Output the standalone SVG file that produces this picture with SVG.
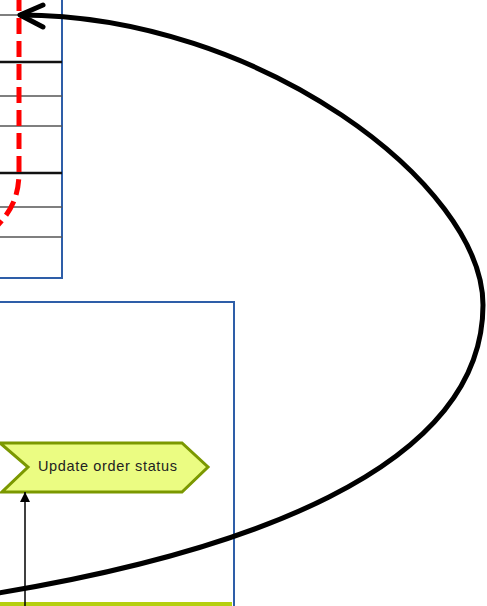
<svg xmlns="http://www.w3.org/2000/svg" width="487" height="606" viewBox="0 0 487 606">
<style>
.box{fill:none;stroke:#2e5ea8;stroke-width:2}
.thin{stroke:#555;stroke-width:1.5}
.thick{stroke:#111;stroke-width:2.5}
.lbl{font-family:"Liberation Sans",Arial,sans-serif;font-size:14.5px;fill:#222}
</style>
<defs>
<marker id="tri" markerWidth="10" markerHeight="10" refX="10" refY="5" orient="auto" markerUnits="userSpaceOnUse">
<path d="M0,0 L10,5 L0,10 Z" fill="#000"/>
</marker>
</defs>
<rect width="487" height="606" fill="#fff"/>
<g id="table">
<rect class="box" x="-10" y="-10" width="72" height="288"/>
<line class="thin" x1="0" y1="15" x2="62" y2="15"/>
<line class="thick" x1="0" y1="62" x2="62" y2="62"/>
<line class="thin" x1="0" y1="96" x2="62" y2="96"/>
<line class="thin" x1="0" y1="126" x2="62" y2="126"/>
<line class="thick" x1="0" y1="173" x2="62" y2="173"/>
<line class="thin" x1="0" y1="207" x2="62" y2="207"/>
<line class="thin" x1="0" y1="237" x2="62" y2="237"/>
</g>
<g id="lane">
<rect class="box" x="-10" y="302" width="244" height="320"/>
<rect x="0" y="602" width="232" height="6" fill="#b5cf10"/>
</g>
<g id="update-order-status">
<polygon points="0,443 182,443 208,467 182,492 2,492 28,467" fill="#ebfc82" stroke="#7b9800" stroke-width="3" stroke-linejoin="miter"/>
<text class="lbl" x="38" y="471" textLength="139">Update order status</text>
</g>
<g id="connectors">
<path d="M19,-5 L19,172 C19,195 12,210 -2,225" fill="none" stroke="#ff0000" stroke-width="5" stroke-dasharray="16,7"/>
<line x1="25" y1="606" x2="25" y2="492" stroke="#000" stroke-width="1.5" marker-end="url(#tri)"/>
<path d="M20,15 C260,15 483,185 483,305 C483,470 240,555 -20,596" fill="none" stroke="#000" stroke-width="5"/>
<polyline points="43,5 20,15 43,27" fill="none" stroke="#000" stroke-width="5" stroke-linecap="round" stroke-linejoin="round"/>
</g>
</svg>
